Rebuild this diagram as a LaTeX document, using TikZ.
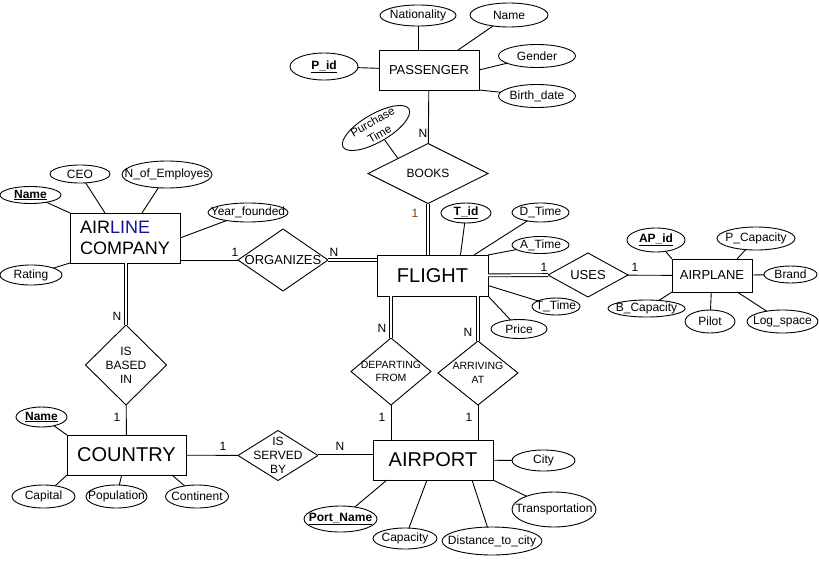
\documentclass[tikz,border=0pt]{standalone}
\usepackage{fontspec}
\setmainfont{Liberation Sans}
\usepackage{xcolor}
\usepackage{tikz}
\usetikzlibrary{calc,shapes.geometric,positioning}

\definecolor{rust}{RGB}{153,51,0}
\definecolor{linenavy}{RGB}{20,20,150}

\begin{document}
\begin{tikzpicture}[line width=0.9bp,
	entity/.style={draw, rectangle, inner sep=0pt, outer sep=0pt, font=\fontsize{20bp}{22bp}\selectfont},
	attr/.style={draw, ellipse, inner sep=-40bp, outer sep=0pt, align=center, font=\fontsize{12bp}{14bp}\selectfont},
	rel/.style={draw, diamond, inner sep=-40bp, outer sep=0pt, align=center, font=\fontsize{12bp}{14bp}\selectfont},
	total/.style={double, double distance=2bp},
	card/.style={inner sep=0pt, font=\fontsize{12bp}{14bp}\selectfont},
	key/.style={font=\fontsize{12bp}{14bp}\selectfont\bfseries}]
	\useasboundingbox[fill=white] (0bp,0bp) rectangle (819bp,-566bp);

	\node (passenger) at (429bp,-70bp)    [entity, minimum width=100bp, minimum height=40bp, font=\fontsize{13bp}{15bp}\selectfont] {PASSENGER};
	\node (airline)   at (125bp,-238bp)   [entity, minimum width=110bp, minimum height=50bp, align=left, font=\fontsize{18bp}{21bp}\selectfont] {AIR\textcolor{linenavy}{LINE}\\COMPANY};
	\node (flight)    at (432.5bp,-275.5bp) [entity, minimum width=111bp, minimum height=41bp] {FLIGHT};
	\node (airplane)  at (712bp,-275.5bp) [entity, minimum width=80bp, minimum height=33bp, font=\fontsize{13bp}{15bp}\selectfont] {AIRPLANE};
	\node (country)   at (126.5bp,-455bp) [entity, minimum width=119bp, minimum height=40bp] {COUNTRY};
	\node (airport)   at (433bp,-460bp)   [entity, minimum width=120bp, minimum height=40bp] {AIRPORT};

	\node (books)     at (428bp,-173.5bp) [rel, minimum width=120bp, minimum height=60bp] {BOOKS};
	\node (organizes) at (283bp,-260bp)   [rel, minimum width=90bp, minimum height=62bp, font=\fontsize{13bp}{15bp}\selectfont] {ORGANIZES};
	\node (uses)      at (588bp,-275bp)   [rel, minimum width=80bp, minimum height=44bp, font=\fontsize{13bp}{15bp}\selectfont] {USES};
	\node (based)     at (126bp,-365bp)   [rel, minimum width=81bp, minimum height=80bp] {IS\\BASED\\IN};
	\node (depart)    at (391bp,-371.5bp) [rel, minimum width=80bp, minimum height=67bp, font=\fontsize{10.5bp}{13.5bp}\selectfont] {DEPARTING\\FROM};
	\node (arrive)    at (478bp,-373bp)   [rel, minimum width=80bp, minimum height=64bp, font=\fontsize{10.5bp}{14bp}\selectfont] {ARRIVING\\AT};
	\node (served)    at (278bp,-455.5bp) [rel, minimum width=80bp, minimum height=50bp] {IS\\SERVED\\BY};

	\node (pid)         at (324bp,-66.5bp)  [attr, minimum width=68bp, minimum height=27bp, key] {\underline{P\_id}};
	\node (nationality) at (418bp,-15.5bp)  [attr, minimum width=76bp, minimum height=21bp] {Nationality};
	\node (pname)       at (509bp,-15bp)    [attr, minimum width=78bp, minimum height=24bp] {Name};
	\node (gender)      at (537bp,-56bp)    [attr, minimum width=77bp, minimum height=23bp] {Gender};
	\node (birth)       at (537bp,-96bp)    [attr, minimum width=77bp, minimum height=23bp] {Birth\_date};
	\node (ptime)       at (376bp,-128bp)   [attr, minimum width=76bp, minimum height=28bp, rotate=30, font=\fontsize{11.5bp}{14bp}\selectfont] {Purchase\\Time};

	\node (aname)  at (30.5bp,-195bp)  [attr, minimum width=61bp, minimum height=17bp, key] {\underline{Name}};
	\node (ceo)    at (80bp,-174bp)    [attr, minimum width=60bp, minimum height=18bp] {CEO};
	\node (nemp)   at (167bp,-174.5bp) [attr, minimum width=90bp, minimum height=27bp] {N\_of\_Employes};
	\node (year)   at (248bp,-212.5bp) [attr, minimum width=80bp, minimum height=19bp] {Year\_founded};
	\node (rating) at (31bp,-275bp)    [attr, minimum width=62bp, minimum height=20bp] {Rating};

	\node (tid)   at (466bp,-213bp)   [attr, minimum width=50bp, minimum height=20bp, key] {\underline{T\_id}};
	\node (dtime) at (540.5bp,-212.5bp) [attr, minimum width=57bp, minimum height=19bp] {D\_Time};
	\node (atime) at (540.5bp,-245bp) [attr, minimum width=57bp, minimum height=17bp] {A\_Time};
	\node (ttime) at (556bp,-306.5bp) [attr, minimum width=48bp, minimum height=17bp] {T\_Time};
	\node (price) at (519bp,-329bp)   [attr, minimum width=56bp, minimum height=19bp] {Price};

	\node (apid)     at (656bp,-240bp)     [attr, minimum width=58bp, minimum height=24bp, key] {\underline{AP\_id}};
	\node (pcap)     at (756bp,-238.5bp)   [attr, minimum width=78bp, minimum height=23bp] {P\_Capacity};
	\node (brand)    at (790.5bp,-274.5bp) [attr, minimum width=53bp, minimum height=17bp] {Brand};
	\node (bcap)     at (646.5bp,-308.5bp) [attr, minimum width=77bp, minimum height=17bp] {B\_Capacity};
	\node (pilot)    at (710bp,-321.5bp)   [attr, minimum width=50bp, minimum height=23bp] {Pilot};
	\node (logspace) at (782.5bp,-321.5bp) [attr, minimum width=71bp, minimum height=23bp] {Log\_space};

	\node (cname)      at (41.5bp,-417bp)   [attr, minimum width=51bp, minimum height=20bp, key] {\underline{Name}};
	\node (capital)    at (43.5bp,-496.5bp) [attr, minimum width=63bp, minimum height=23bp] {Capital};
	\node (population) at (116.5bp,-496.5bp) [attr, minimum width=61bp, minimum height=23bp] {Population};
	\node (continent)  at (197bp,-496.5bp)  [attr, minimum width=63bp, minimum height=23bp] {Continent};

	\node (city)      at (543.5bp,-460.5bp) [attr, minimum width=63bp, minimum height=21bp] {City};
	\node (transport) at (554bp,-509.5bp)   [attr, minimum width=84bp, minimum height=35bp] {Transportation};
	\node (portname)  at (340.5bp,-519bp)   [attr, minimum width=73bp, minimum height=26bp, key] {\underline{Port\_Name}};
	\node (capacity)  at (405bp,-538.5bp)   [attr, minimum width=64bp, minimum height=21bp] {Capacity};
	\node (distance)  at (492bp,-541bp)     [attr, minimum width=100bp, minimum height=28bp] {Distance\_to\_city};

	\node (cBooksN)   at (423bp,-133bp) [card] {N};
	\node (cBooks1)   at (415bp,-213bp) [card, text=rust] {1};
	\node (cOrg1)     at (235bp,-252bp) [card] {1};
	\node (cOrgN)     at (334bp,-252bp) [card] {N};
	\node (cUses1)    at (544bp,-267bp) [card] {1};
	\node (cPlane1)   at (635bp,-267bp) [card] {1};
	\node (cBasedN)   at (117bp,-316bp) [card] {N};
	\node (cBased1)   at (117bp,-417bp) [card] {1};
	\node (cDepartN)  at (382bp,-328bp) [card] {N};
	\node (cDepart1)  at (382bp,-417bp) [card] {1};
	\node (cArriveN)  at (468bp,-332bp) [card] {N};
	\node (cArrive1)  at (469bp,-417bp) [card] {1};
	\node (cServed1)  at (223bp,-446bp) [card] {1};
	\node (cServedN)  at (340bp,-446bp) [card] {N};

	\draw (pid) -- (passenger);
	\draw (nationality) -- (nationality |- passenger.north);
	\draw (pname) -- (passenger);
	\draw (gender) -- (passenger.east);
	\draw (birth) -- (passenger.south east);
	\draw (passenger) -- (books);
	\draw (ptime) -- (books.north west);
	\draw [total] (books.south) -- (books.south |- flight.north);

	\draw (aname) -- (airline.north west);
	\draw (ceo) -- ($(airline.north)+(-20bp,0)$);
	\draw (nemp) -- ($(airline.north)+(17bp,0)$);
	\draw (year) -- (airline.east);
	\draw (rating) -- (airline.south west);
	\draw (airline.east |- organizes.west) -- (organizes.west);
	\draw [total] (organizes.east) -- (organizes.east -| flight.west);
	\draw [total] (based.north) -- (based.north |- airline.south);
	\draw (based) -- (country);

	\draw (tid) -- ($(flight.north)+(28bp,0)$);
	\draw (dtime) -- ($(flight.north east)+(-14bp,0)$);
	\draw (atime) -- (flight.north east);
	\draw (ttime) -- ($(flight.east)+(0,-10bp)$);
	\draw (price) -- (flight.south east);
	\draw [total] (flight) -- (uses);
	\draw (uses) -- (airplane);

	\draw (apid) -- (airplane.north west);
	\draw (pcap) -- ($(airplane.north)+(25bp,0)$);
	\draw (brand) -- (airplane);
	\draw (bcap) -- (airplane.south west);
	\draw (pilot) -- (airplane);
	\draw (logspace) -- (airplane);

	\draw [total] (depart.north) -- (depart.north |- flight.south);
	\draw [total] (arrive.north) -- (arrive.north |- flight.south);
	\draw (depart.south) -- (depart.south |- airport.north);
	\draw (arrive.south) -- (arrive.south |- airport.north);

	\draw (cname) -- (country.north west);
	\draw (capital) -- (country.south west);
	\draw (population) -- (country);
	\draw (continent) -- ($(country.south east)+(-14bp,0)$);
	\draw (country) -- (served);
	\draw [total] (served.east) -- (served.east -| airport.west);

	\draw (city) -- (airport);
	\draw (transport) -- (airport.south east);
	\draw (portname) -- ($(airport.south)+(-46bp,0)$);
	\draw (capacity) -- ($(airport.south)+(-6bp,0)$);
	\draw (distance) -- ($(airport.south)+(39bp,0)$);
\end{tikzpicture}
\end{document}
